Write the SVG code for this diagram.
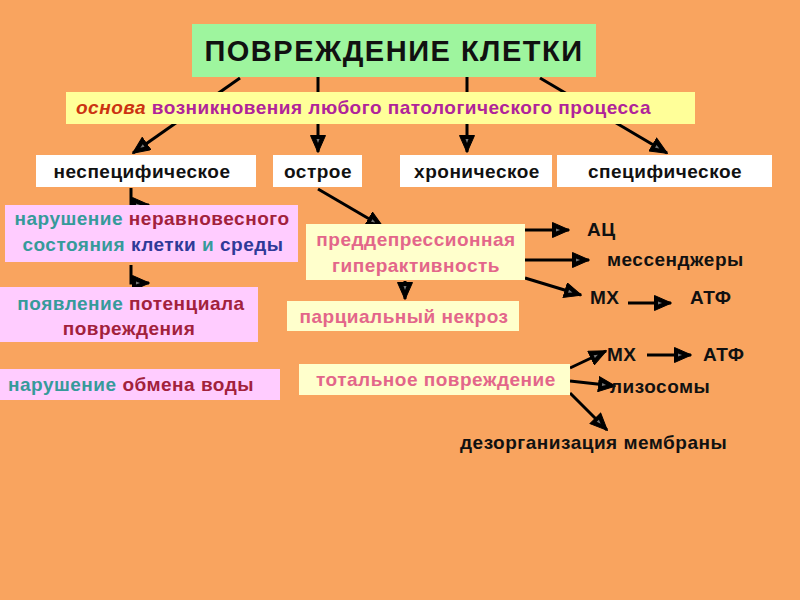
<svg xmlns="http://www.w3.org/2000/svg" width="800" height="600" viewBox="0 0 800 600">
<defs>
<style>
text{font-family:"Liberation Sans",Arial,sans-serif;font-weight:bold;font-size:19px;letter-spacing:0.5px}
.t{fill:#111}
.lbl{fill:#111}
.pk{fill:#E3668A}
.teal{fill:#369A9A}
.red{fill:#A2213C}
.blue{fill:#2F3A98}
.ln{stroke:#000;stroke-width:3;fill:none;marker-end:url(#ah)}
</style>
<marker id="ah" markerUnits="userSpaceOnUse" viewBox="0 0 18 16" markerWidth="18" markerHeight="16" refX="17" refY="8" orient="auto">
<path d="M0.5,0.5 L17.5,8 L0.5,15.5 z" fill="#000" stroke="#000" stroke-width="1"/>
<path d="M4,6.5 L8,8 L4,9.5 z" fill="#777"/>
</marker>
</defs>
<rect width="800" height="600" fill="#F9A45F"/>
<g id="connectors">
<path class="ln" d="M240,78 L133,153"/>
<path class="ln" d="M318,77 V152"/>
<path class="ln" d="M467,77 V152"/>
<path class="ln" d="M540,78 L667,153"/>
<path class="ln" d="M131,188 V205 H149"/>
<path class="ln" d="M131,265 V283 H149"/>
<path class="ln" d="M318,189 L383,227"/>
<path class="ln" d="M525,230 H569"/>
<path class="ln" d="M525,260 H589"/>
<path class="ln" d="M525,278 L581,295"/>
<path class="ln" d="M628,303 H671"/>
<path class="ln" d="M405,281 V299"/>
<path class="ln" d="M570,368 L606,351"/>
<path class="ln" d="M647,355 H691"/>
<path class="ln" d="M570,381 L615,386"/>
<path class="ln" d="M570,393 L607,430"/>
</g>
<g id="title">
<rect x="192" y="24" width="404" height="53" fill="#9EF59E"/>
<text x="394" y="61" text-anchor="middle" style="font-size:29px;letter-spacing:1.5px" fill="#111">ПОВРЕЖДЕНИЕ КЛЕТКИ</text>
</g>
<g id="band">
<rect x="66" y="92" width="629" height="32" fill="#FFFF99"/>
<text x="76" y="114"><tspan fill="#CC3311" font-style="italic">основа</tspan><tspan fill="#B0249A"> возникновения любого патологического процесса</tspan></text>
</g>
<g id="nonspecific">
<rect x="36" y="155" width="220" height="32" fill="#fff"/>
<text class="t" x="142" y="178" text-anchor="middle">неспецифическое</text>
</g>
<g id="acute">
<rect x="273" y="155" width="89" height="32" fill="#fff"/>
<text class="t" x="318" y="178" text-anchor="middle">острое</text>
</g>
<g id="chronic">
<rect x="400" y="155" width="152" height="32" fill="#fff"/>
<text class="t" x="477" y="178" text-anchor="middle">хроническое</text>
</g>
<g id="specific">
<rect x="557" y="155" width="215" height="32" fill="#fff"/>
<text class="t" x="665" y="178" text-anchor="middle">специфическое</text>
</g>
<g id="disturb">
<rect x="5" y="205" width="293" height="57" fill="#FFCCFF"/>
<text x="152" y="225" text-anchor="middle"><tspan class="teal">нарушение </tspan><tspan class="red">неравновесного</tspan></text>
<text x="153" y="251" text-anchor="middle"><tspan class="teal">состояния </tspan><tspan class="blue">клетки </tspan><tspan class="teal">и </tspan><tspan class="blue">среды</tspan></text>
</g>
<g id="potential">
<rect x="0" y="287" width="258" height="55" fill="#FFCCFF"/>
<text x="131" y="310" text-anchor="middle"><tspan class="teal">появление </tspan><tspan class="red">потенциала</tspan></text>
<text x="129" y="335" text-anchor="middle" class="red">повреждения</text>
</g>
<g id="water">
<rect x="0" y="369" width="280" height="31" fill="#FFCCFF"/>
<text x="8" y="391"><tspan class="teal">нарушение </tspan><tspan class="red">обмена воды</tspan></text>
</g>
<g id="hyper">
<rect x="306" y="224" width="219" height="56" fill="#FFFFCC"/>
<text class="pk" x="416" y="246" text-anchor="middle">преддепрессионная</text>
<text class="pk" x="416" y="272" text-anchor="middle">гиперактивность</text>
</g>
<g id="partial">
<rect x="287" y="301" width="232" height="30" fill="#FFFFCC"/>
<text class="pk" x="404" y="323" text-anchor="middle">парциальный некроз</text>
</g>
<g id="total">
<rect x="299" y="364" width="271" height="31" fill="#FFFFCC"/>
<text class="pk" x="316" y="386">тотальное повреждение</text>
</g>
<g id="labels">
<text class="lbl" x="587" y="236">АЦ</text>
<text class="lbl" x="607" y="266">мессенджеры</text>
<text class="lbl" x="590" y="304">МХ</text>
<text class="lbl" x="690" y="304">АТФ</text>
<text class="lbl" x="607" y="361">МХ</text>
<text class="lbl" x="703" y="361">АТФ</text>
<text class="lbl" x="610" y="393">лизосомы</text>
<text class="lbl" x="460" y="449">дезорганизация мембраны</text>
</g>
</svg>
